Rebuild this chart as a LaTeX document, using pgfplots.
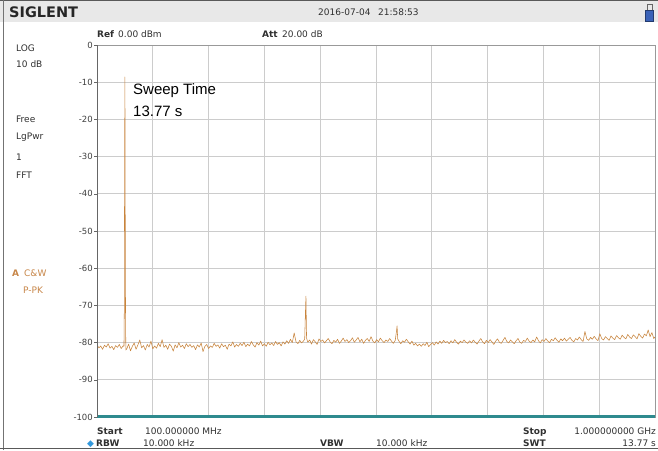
\documentclass[border=0pt]{standalone}
\usepackage{fontspec}
\setmainfont{DejaVu Sans}
\newfontfamily\arial{Liberation Sans}
\usepackage{pgfplots}
\pgfplotsset{compat=1.18}
\definecolor{trace}{HTML}{C8843C}
\definecolor{gridc}{HTML}{CCCCCC}
\definecolor{hdr}{HTML}{E8E8E8}
\definecolor{txt}{HTML}{303030}
\definecolor{tealc}{HTML}{2E8A8E}
\definecolor{orng}{HTML}{C8874A}
\definecolor{batt}{HTML}{3A62B8}
\definecolor{diam}{HTML}{3399DD}
\begin{document}
\begin{tikzpicture}[x=1pt,y=1pt]
\clip (0,0) rectangle (658,450);
\fill[white] (0,0) rectangle (658,450);
\fill[hdr] (0,428) rectangle (658,449);
\draw[black!65, line width=1pt] (0,449.5) -- (658,449.5);
\draw[black!55, line width=1pt] (3.5,0) -- (3.5,450);
\draw[black!65, line width=1pt] (0,1.8) -- (658,1.8);
% battery
\fill[batt, draw=batt!60!black] (645.5,428.5) rectangle (653.5,440);
\draw[black!60, line width=0.6pt] (647,440) -- (647,446) -- (652,446) -- (652,440);
% header texts
\node[anchor=base west, inner sep=0pt, font=\fontsize{14.5}{16}\selectfont\bfseries, text=black!85] at (9,432) {SIGLENT};
\node[anchor=base west, inner sep=0pt, font=\fontsize{9}{10}\selectfont, text=txt] at (318,434) {2016-07-04};
\node[anchor=base west, inner sep=0pt, font=\fontsize{9}{10}\selectfont, text=txt] at (378,434) {21:58:53};
\node[anchor=base west, inner sep=0pt, font=\fontsize{9}{10}\selectfont\bfseries, text=txt] at (97,412.5) {Ref};
\node[anchor=base west, inner sep=0pt, font=\fontsize{9}{10}\selectfont, text=txt] at (118,412.5) {0.00 dBm};
\node[anchor=base west, inner sep=0pt, font=\fontsize{9}{10}\selectfont\bfseries, text=txt] at (262,412.5) {Att};
\node[anchor=base west, inner sep=0pt, font=\fontsize{9}{10}\selectfont, text=txt] at (282,412.5) {20.00 dB};
% left panel
\begin{scope}[every node/.style={anchor=base west, inner sep=0pt, font=\fontsize{9}{10}\selectfont, text=txt}]
\node at (16,398) {LOG};
\node at (16,382) {10 dB};
\node at (16,327) {Free};
\node at (16,310) {LgPwr};
\node at (16,289) {1};
\node at (16,271) {FFT};
\node[text=orng] at (12,173) {\textbf{A}};
\node[text=orng] at (24,173) {C\&W};
\node[text=orng] at (23,157) {P-PK};
\end{scope}
% bottom texts
\begin{scope}[every node/.style={anchor=base west, inner sep=0pt, font=\fontsize{9}{10}\selectfont, text=txt}]
\node[font=\fontsize{9}{10}\selectfont\bfseries] at (97,16) {Start};
\node at (145,16) {100.000000 MHz};
\node[text=diam] at (87,4) {◆};
\node[font=\fontsize{9}{10}\selectfont\bfseries] at (96,4) {RBW};
\node at (143,4) {10.000 kHz};
\node[font=\fontsize{9}{10}\selectfont\bfseries] at (320,4) {VBW};
\node at (376,4) {10.000 kHz};
\node[font=\fontsize{9}{10}\selectfont\bfseries] at (523,16) {Stop};
\node[anchor=base east] at (656,16) {1.000000000 GHz};
\node[font=\fontsize{9}{10}\selectfont\bfseries] at (523,4) {SWT};
\node[anchor=base east] at (656,4) {13.77 s};
\end{scope}
\begin{axis}[
  at={(97pt,33pt)}, anchor=south west,
  width=558pt, height=372pt, scale only axis,
  xmin=100, xmax=1000, ymin=-100, ymax=0,
  xtick={100,190,...,1000}, xticklabels={},
  major x tick style={draw=none},
  ytick={-100,-90,...,0},
  yticklabels={-100,-90,-80,-70,-60,-50,-40,-30,-20,-10,0},
  ytick pos=left, tick align=outside,
  major tick length=3pt,
  y tick style={draw=black!60, line width=0.5pt},
  yticklabel style={font=\fontsize{8.5}{9}\selectfont, text=black!75, inner sep=1pt},
  grid=major,
  grid style={draw=gridc, line width=0.8pt},
  axis line style={draw=black!40, line width=0.7pt},
  clip=true,
]
\addplot[tealc, line width=2.6pt, forget plot] coordinates {(100,-99.8)(1000,-99.8)};
\addplot[trace, line width=0.55pt, line join=round] coordinates {
(100,-80.6)(103,-81.4)(106,-80.9)(109,-81.8)(112,-80.7)(115,-81.2)(118,-80.3)(121,-81.5)(124,-81.0)(127,-81.9)(130,-80.8)(133,-81.3)(136,-80.5)(139,-81.6)(142,-80.9)
(143.5,-81.0)(144,-72)(144.5,-35.5)(145,-8.6)(145.5,-44.4)(146,-72)(146.5,-82.0)
(148,-81.7)(151,-80.4)(154,-82.2)(157,-81.0)(160,-80.1)(163,-81.8)(166,-80.6)(169,-79.3)(172,-81.4)(175,-80.8)(178,-82.0)(181,-80.5)(184,-81.2)(187,-79.6)(190,-81.7)(193,-80.9)(196,-81.5)(199,-80.2)(202,-81.1)(205,-79.2)(208,-81.3)(211,-80.7)(214,-81.8)(217,-80.4)(220,-81.0)(223,-82.3)(226,-80.6)(229,-81.4)(232,-80.0)(235,-81.2)(238,-80.7)(241,-81.6)(244,-80.3)(247,-81.1)(250,-80.5)
(253,-81.3)(256,-80.8)(259,-81.9)(262,-80.6)(265,-81.2)(268,-80.1)(271,-82.4)(274,-81.0)(277,-80.5)(280,-81.6)(283,-80.9)(286,-81.3)(289,-80.2)(292,-81.0)(295,-80.6)(298,-81.5)(301,-80.3)(304,-81.1)(307,-80.7)(310,-81.8)(313,-80.4)(316,-80.9)(319,-79.8)(322,-81.2)(325,-80.5)(328,-81.0)(331,-80.2)(334,-80.8)(337,-79.9)(340,-81.1)(343,-80.4)(346,-80.9)(349,-79.7)(352,-80.6)(355,-81.2)(358,-80.0)(361,-80.7)(364,-79.6)(367,-80.9)(370,-80.3)(373,-81.0)(376,-79.9)(379,-80.6)(382,-80.1)(385,-80.8)(388,-79.7)(391,-80.5)(394,-80.0)(397,-80.9)(400,-79.8)
(403,-80.4)(406,-79.5)(409,-80.2)(412,-79.1)(415,-80.0)(418,-77.4)(421,-79.8)(424,-80.3)(427,-79.4)(430,-80.1)(433,-79.6)(435,-79.0)(436,-73.0)(437,-67.5)(438,-78.8)(440,-79.9)(443,-79.3)(446,-80.4)(449,-79.2)(452,-79.8)(455,-80.5)(458,-79.0)(461,-79.7)(464,-79.3)(467,-80.1)(470,-79.5)(473,-78.9)(476,-79.8)(479,-80.3)(482,-79.4)(485,-79.9)(488,-79.1)(491,-80.2)(494,-79.6)(497,-78.8)(500,-79.7)
(503,-79.2)(506,-80.0)(509,-79.5)(512,-78.7)(515,-79.9)(518,-79.3)(521,-78.6)(524,-79.8)(527,-79.1)(530,-80.2)(533,-79.4)(536,-78.9)(539,-79.7)(542,-78.4)(545,-79.6)(548,-80.1)(551,-79.2)(554,-79.8)(557,-78.8)(560,-79.5)(563,-80.0)(566,-79.3)(569,-79.7)(572,-78.9)(575,-79.6)(578,-80.2)(581,-79.4)(583,-77.0)(584,-75.5)(585,-79.0)(587,-79.6)(590,-80.3)(593,-79.5)(596,-79.9)(599,-79.1)
(602,-79.8)(605,-80.4)(608,-79.6)(611,-80.7)(614,-80.2)(617,-80.9)(620,-80.4)(623,-81.0)(626,-80.3)(629,-80.8)(632,-79.9)(635,-81.1)(638,-80.5)(641,-80.0)(644,-80.7)(647,-79.8)(650,-80.4)(653,-79.6)(656,-80.2)(659,-79.4)(662,-80.0)(665,-79.7)(668,-80.3)(671,-79.5)(674,-80.1)(677,-79.2)(680,-79.9)(683,-80.4)(686,-79.6)(689,-80.0)(692,-79.3)(695,-79.9)(698,-80.2)
(701,-79.5)(704,-80.1)(707,-79.3)(710,-79.9)(713,-80.4)(716,-79.6)(719,-78.9)(722,-79.8)(725,-80.3)(728,-79.4)(731,-80.0)(734,-79.2)(737,-79.8)(740,-80.5)(743,-79.6)(746,-79.0)(749,-79.9)(752,-80.2)(755,-79.4)(758,-78.6)(761,-79.7)(764,-80.1)(767,-79.3)(770,-79.8)(773,-80.3)(776,-79.5)(779,-78.9)(782,-79.9)(785,-80.2)(788,-79.4)(791,-79.7)(794,-78.8)(797,-79.6)(800,-80.0)(803,-79.3)(806,-79.8)(809,-78.5)(812,-79.5)(815,-80.1)(818,-79.2)(821,-79.7)(824,-78.9)(827,-79.6)(830,-80.0)(833,-79.1)(836,-79.5)(839,-78.7)(842,-79.4)(845,-79.9)(848,-79.0)
(851,-79.5)(854,-78.8)(857,-79.6)(860,-79.1)(863,-78.6)(866,-79.4)(869,-79.8)(872,-78.9)(875,-79.3)(878,-78.5)(881,-79.2)(884,-79.7)(887,-77.0)(890,-79.0)(893,-79.4)(896,-78.6)(899,-79.1)(902,-78.3)(905,-79.0)(908,-79.5)(911,-77.6)(914,-78.9)(917,-79.3)(920,-78.4)(923,-78.9)(926,-79.4)(929,-78.2)(932,-78.8)(935,-79.2)(938,-78.1)(941,-78.7)(944,-79.1)(947,-78.0)(950,-78.6)(953,-79.0)(956,-77.8)(959,-78.5)(962,-78.9)(965,-77.9)(968,-78.4)(971,-79.0)(974,-77.6)(977,-78.3)(980,-78.8)(983,-77.7)(986,-78.2)(989,-76.6)(992,-78.4)(995,-77.3)(998,-78.9)(1000,-78.5)
};
\draw[black!60, line width=0.8pt] (axis cs:100,-100) -- (axis cs:100,0);
\end{axis}
\node[anchor=base west, inner sep=0pt, font=\arial\fontsize{15}{17}\selectfont, text=black] at (133,355) {Sweep Time};
\node[anchor=base west, inner sep=0pt, font=\arial\fontsize{15}{17}\selectfont, text=black] at (133,333) {13.77 s};
\end{tikzpicture}
\end{document}
